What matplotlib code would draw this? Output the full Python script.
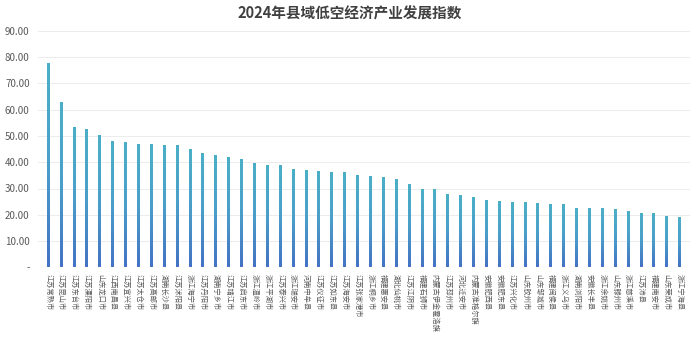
import matplotlib
matplotlib.use("Agg")
import matplotlib.pyplot as plt
import numpy as np
from matplotlib.colors import LinearSegmentedColormap
from matplotlib.ticker import FuncFormatter

plt.rcParams['font.family'] = ['Noto Sans CJK SC', 'DejaVu Sans']

title = "2024年县域低空经济产业发展指数"
counties = ["江苏常熟市", "江苏昆山市", "江苏东台市", "江苏溧阳市", "山东龙口市",
            "江西南昌县", "江苏宜兴市", "江苏太仓市", "江苏高邮市", "湖南长沙县",
            "江苏沭阳县", "浙江海宁市", "江苏丹阳市", "湖南宁乡市", "江苏靖江市",
            "江苏启东市", "浙江温岭市", "浙江平湖市", "江苏泰兴市", "浙江瑞安市",
            "河南中牟县", "江苏仪征市", "江苏如东县", "江苏海安市", "江苏张家港市",
            "浙江桐乡市", "福建惠安县", "湖北仙桃市", "江苏江阴市", "福建石狮市",
            "内蒙古伊金霍洛旗", "江苏邳州市", "河北迁安市", "内蒙古准格尔旗", "安徽肥西县",
            "安徽肥东县", "江苏兴化市", "山东胶州市", "山东邹城市", "福建闽侯县",
            "浙江义乌市", "湖南浏阳市", "安徽长丰县", "浙江余姚市", "山东滕州市",
            "浙江慈溪市", "江苏沛县", "福建南安市", "山东荣成市", "浙江宁海县"]
values = [77.6, 63.0, 53.3, 52.7, 50.3, 47.9, 47.7, 46.9, 46.9, 46.4,
          46.4, 45.0, 43.4, 42.7, 41.9, 41.1, 39.6, 39.0, 39.0, 37.3,
          36.9, 36.5, 36.2, 36.2, 35.1, 34.6, 34.5, 33.6, 31.6, 29.9,
          29.7, 27.8, 27.4, 26.7, 25.7, 25.2, 24.9, 24.8, 24.6, 24.1,
          24.0, 22.7, 22.5, 22.5, 22.3, 21.4, 20.8, 20.6, 19.4, 19.2]
yticks = [0, 10, 20, 30, 40, 50, 60, 70, 80, 90]

fig = plt.figure(figsize=(7, 3.42), dpi=100)
ax = fig.add_axes([38/700, 1 - 267.4/342, (690-38)/700, (267.4-30.7)/342])

x = np.arange(len(counties))
bars = ax.bar(x, values, width=0.23, color='none', zorder=3)
cmap = LinearSegmentedColormap.from_list('g', ['#4472c4', '#4a9fca', '#4bb0c6'])
grad = np.linspace(0, 1, 256).reshape(-1, 1)
for b, v in zip(bars, values):
    x0 = b.get_x()
    w = b.get_width()
    im = ax.imshow(grad, cmap=cmap, origin='lower', aspect='auto',
                   extent=[x0, x0 + w, 0, v], zorder=3)
    im.set_clip_path(b)

ax.set_xlim(-0.8, len(counties) - 0.2)
ax.set_ylim(0, 90)
ax.set_yticks(yticks)
ax.yaxis.set_major_formatter(FuncFormatter(lambda v, p: '-' if v == 0 else f"{v:.2f}"))
ax.grid(axis='y', color='#ececec', linewidth=0.7, zorder=0)
for s in ax.spines.values():
    s.set_visible(False)
ax.tick_params(axis='y', length=0, labelsize=7, labelcolor='#595959', pad=6)
ax.set_xticks(x)
ax.set_xticklabels(counties, rotation=270, fontsize=5.2, color='#595959')
ax.tick_params(axis='x', length=0, pad=5)

fig.text(0.5, 1 - 13/342, title, ha='center', va='center', fontsize=10.5,
         fontweight='bold', color='#404040')

fig.savefig('out.png', dpi=100)
